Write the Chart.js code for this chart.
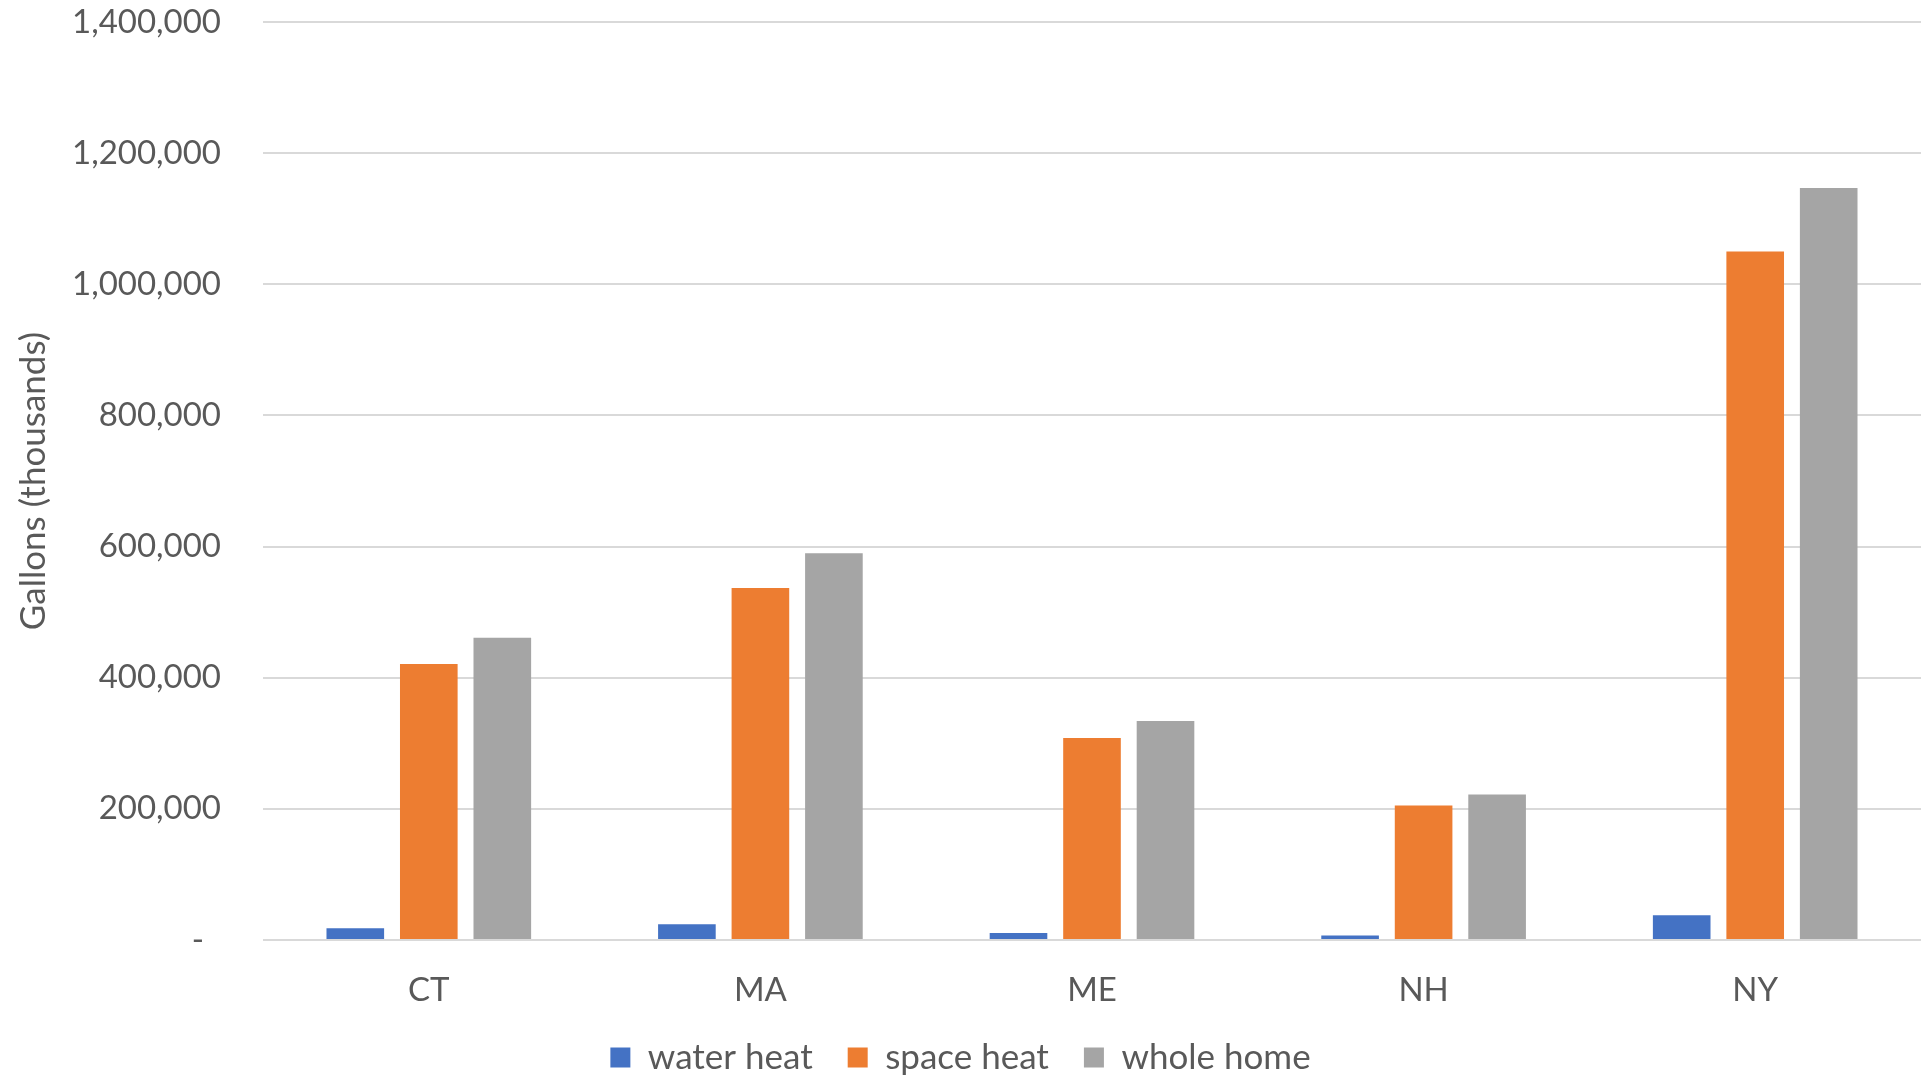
<!DOCTYPE html>
<html>
<head>
<meta charset="utf-8">
<title>Gallons by state</title>
<script src="https://cdn.jsdelivr.net/npm/chart.js@4/dist/chart.umd.min.js"></script>
<style>
  html, body { margin:0; padding:0; background:#fff; }
  #wrap { width:1921px; height:1076px; }
</style>
</head>
<body>
<div id="wrap"><canvas id="chart"></canvas></div>
<script>
// states on the x axis
const states = ['CT', 'MA', 'ME', 'NH', 'NY'];

// gallons (thousands) per state
const waterHeat = [18000, 24000, 10700, 7000, 37700];
const spaceHeat = [421000, 537000, 308000, 205000, 1050000];
const wholeHome = [461000, 590000, 334000, 222000, 1147000];

const seriesNames = ['water heat', 'space heat', 'whole home'];
const seriesColors = ['#4472C4', '#ED7D31', '#A5A5A5'];

const yMax = 1400000, yStep = 200000;

const textColor = '#595959';
const font = { family: 'Lato', size: 33 };

// zero shows as an accounting dash, a bit in from the right edge
function fmtTick(v){ return v === 0 ? '-  ' : v.toLocaleString('en-US'); }

const ds = [waterHeat, spaceHeat, wholeHome].map((d, i) => ({
  label: seriesNames[i], data: d, backgroundColor: seriesColors[i],
  barPercentage: 0.784, categoryPercentage: 0.665
}));

new Chart(document.getElementById('chart'), {
  type: 'bar',
  data: { labels: states, datasets: ds },
  options: {
    responsive: true, maintainAspectRatio: false, animation: false,
    layout: { padding: { top: 22, right: 0, bottom: -9, left: 0 } },
    plugins: {
      tooltip: { enabled: false },
      legend: {
        position: 'bottom',
        labels: { boxWidth: 20, boxHeight: 20, padding: 35, color: textColor, font: { family: 'Lato', size: 35 } }
      }
    },
    scales: {
      x: {
        grid: { display: false, drawTicks: false },
        border: { display: false },
        ticks: { color: textColor, font: font, padding: 30.5 },
        afterFit: s => { s.height = 65; s.paddingLeft = 0; s.paddingRight = 0; }
      },
      y: {
        min: 0, max: yMax,
        grid: { color: '#d9d9d9', lineWidth: 2, drawTicks: false },
        border: { display: false },
        ticks: { stepSize: yStep, color: textColor, font: font, padding: 42, callback: fmtTick },
        title: { display: true, text: 'Gallons (thousands)', color: textColor,
                 font: { family: 'Lato', size: 35 }, padding: { top: 13, bottom: 0 } },
        afterFit: s => { s.width = 263; s.paddingTop = 0; s.paddingBottom = 0; }
      }
    }
  }
});
</script>
</body>
</html>
